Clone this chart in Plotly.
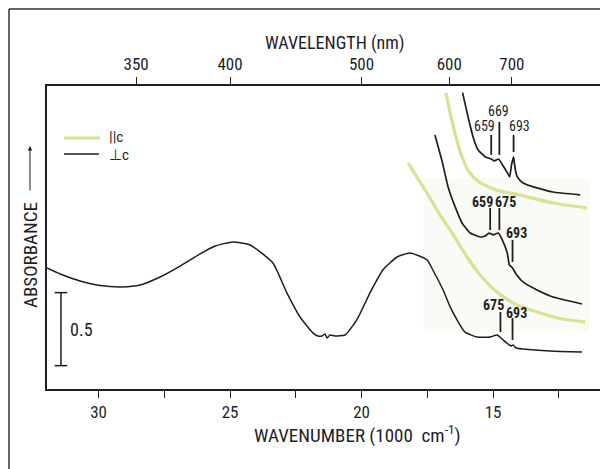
import plotly.graph_objects as go

# ---------------- data (wavenumber in 1000 cm^-1, absorbance) ----------------
main_wn = [31.96, 31.46, 30.70, 29.94, 29.11, 28.42, 27.66, 26.90, 26.14, 25.57, 24.89,
           24.24, 23.37, 22.84, 22.34, 21.85, 21.66, 21.50, 21.39, 21.31, 21.20, 21.01,
           20.63, 20.18, 19.68, 19.19, 18.65, 18.16, 17.51, 17.29, 16.90, 16.63, 16.37,
           16.07, 15.61, 15.11, 14.85, 14.62, 14.43, 14.32, 14.24, 14.12, 13.86, 12.83, 11.62]
main_abs = [0.829, 0.788, 0.740, 0.709, 0.699, 0.712, 0.767, 0.842, 0.925, 0.979, 1.007,
            0.986, 0.863, 0.658, 0.493, 0.384, 0.363, 0.363, 0.377, 0.349, 0.370, 0.363,
            0.370, 0.473, 0.658, 0.815, 0.904, 0.932, 0.884, 0.815, 0.678, 0.562, 0.473,
            0.390, 0.356, 0.356, 0.370, 0.336, 0.308, 0.295, 0.301, 0.281, 0.274, 0.260, 0.253]

perp_top_wn = [16.16, 15.95, 15.76, 15.57, 15.29, 15.07, 14.95, 14.79, 14.64, 14.45,
               14.37, 14.30, 14.22, 14.18, 14.12, 14.05, 13.86, 13.33, 12.72, 11.69]
perp_top_abs = [2.03, 1.863, 1.726, 1.637, 1.589, 1.575, 1.562, 1.575, 1.534, 1.479,
                1.452, 1.534, 1.589, 1.534, 1.473, 1.445, 1.411, 1.377, 1.349, 1.329]

par_top_wn = [16.79, 16.60, 16.41, 16.18, 15.91, 15.53, 14.89, 14.01, 12.72, 11.43]
par_top_abs = [2.027, 1.863, 1.726, 1.589, 1.486, 1.418, 1.363, 1.329, 1.274, 1.240]

perp_mid_wn = [17.21, 16.95, 16.71, 16.44, 16.18, 15.87, 15.49, 15.30, 15.15, 14.99,
               14.80, 14.65, 14.46, 14.38, 14.26, 14.15, 13.86, 13.33, 12.72, 11.62]
perp_mid_abs = [1.740, 1.568, 1.384, 1.247, 1.137, 1.068, 1.041, 1.048, 1.068, 1.055,
                1.068, 1.021, 0.932, 0.849, 0.829, 0.795, 0.733, 0.678, 0.630, 0.582]

par_low_wn = [18.23, 17.78, 17.40, 17.02, 16.71, 16.44, 15.99, 15.49, 14.85, 14.09,
              13.21, 12.34, 11.50]
par_low_abs = [1.548, 1.418, 1.308, 1.192, 1.110, 1.034, 0.904, 0.781, 0.664, 0.575,
               0.521, 0.479, 0.459]

# peak labels: text, label x, label y, marker x, marker y0, marker y1, bold
peak_text = ["669", "659", "693", "659", "675", "693", "675", "693"]
peak_lx = [14.79, 15.33, 13.99, 15.42, 14.51, 14.12, 15.00, 14.12]
peak_ly = [1.904, 1.801, 1.801, 1.281, 1.281, 1.068, 0.575, 0.521]
peak_mx = [14.76, 15.07, 14.22, 15.11, 14.76, 14.26, 14.72, 14.26]
peak_my0 = [1.829, 1.740, 1.740, 1.240, 1.240, 1.021, 0.527, 0.486]
peak_my1 = [1.603, 1.603, 1.623, 1.089, 1.089, 0.870, 0.390, 0.336]
peak_bold = [False, False, False, True, True, True, True, True]

bottom_ticks = [30, 27.5, 25, 22.5, 20, 17.5, 15, 12.5]
bottom_labels = ["30", "", "25", "", "20", "", "15", ""]
top_ticks_nm = [350, 400, 500, 600, 700]

scale_bar_x = 31.43
scale_bar_bottom = 0.16
scale_bar_len = 0.5

X_RANGE = [31.96, 10.63]
Y_RANGE = [0, 2.075]

BLACK = "#1e1e1e"
YELLOW = "#d8e290"
FONT = "Liberation Sans Narrow, Roboto Condensed, Arial Narrow, Liberation Sans, sans-serif"

fig = go.Figure()

# inset paste-up background
fig.add_shape(type="rect", xref="x", yref="y", x0=17.65, x1=11.35, y0=0.39, y1=1.445,
              fillcolor="#fafaf6", line=dict(width=0), layer="below")

fig.add_trace(go.Scatter(x=par_top_wn, y=par_top_abs, mode="lines", name="||c",
                         line=dict(color=YELLOW, width=3.2, shape="spline", smoothing=0.6), showlegend=False))
fig.add_trace(go.Scatter(x=par_low_wn, y=par_low_abs, mode="lines", name="||c",
                         line=dict(color=YELLOW, width=3.2, shape="spline", smoothing=0.6), showlegend=False))
fig.add_trace(go.Scatter(x=perp_top_wn, y=perp_top_abs, mode="lines", name="⊥c",
                         line=dict(color=BLACK, width=1.7, shape="spline", smoothing=0.4), showlegend=False))
fig.add_trace(go.Scatter(x=perp_mid_wn, y=perp_mid_abs, mode="lines", name="⊥c",
                         line=dict(color=BLACK, width=1.7, shape="spline", smoothing=0.4), showlegend=False))
fig.add_trace(go.Scatter(x=main_wn, y=main_abs, mode="lines", name="⊥c",
                         line=dict(color=BLACK, width=1.5, shape="spline", smoothing=0.5), showlegend=False))

# peak marker lines
px, py = [], []
for mx, y0, y1 in zip(peak_mx, peak_my0, peak_my1):
    px += [mx, mx, None]
    py += [y0, y1, None]
fig.add_trace(go.Scatter(x=px, y=py, mode="lines", line=dict(color=BLACK, width=1.8),
                         showlegend=False, hoverinfo="skip"))

for t, lx, ly, b in zip(peak_text, peak_lx, peak_ly, peak_bold):
    fig.add_annotation(x=lx, y=ly, xref="x", yref="y", text=f"<b>{t}</b>" if b else t,
                       showarrow=False, xanchor="center", yanchor="middle",
                       font=dict(family=FONT, size=14, color=BLACK))

# scale bar
fig.add_trace(go.Scatter(x=[scale_bar_x, scale_bar_x],
                         y=[scale_bar_bottom, scale_bar_bottom + scale_bar_len],
                         mode="lines+markers", line=dict(color=BLACK, width=1.5),
                         marker=dict(symbol="line-ew", size=9, line=dict(color=BLACK, width=1.5)),
                         showlegend=False, hoverinfo="skip"))
fig.add_annotation(x=31.16, y=scale_bar_bottom + scale_bar_len / 2, xref="x", yref="y",
                   text=str(scale_bar_len), showarrow=False, xanchor="left", yanchor="middle",
                   font=dict(family=FONT, size=18, color=BLACK))

# dummy trace to activate top axis
fig.add_trace(go.Scatter(x=X_RANGE, y=[None, None], xaxis="x2", showlegend=False, hoverinfo="skip"))

# page has an 8px body margin: figure is placed at (8, 8) in the window
OFF = 8
W, H = 600, 461
L, R, T, B = 39, 0, 78, 80
pw, ph = W - L - R, H - T - B


def pxx(p):
    return (p - OFF - L) / pw


def pxy(p):
    return (H - B - (p - OFF)) / ph


# legend (manual)
fig.add_shape(type="line", xref="paper", yref="paper", x0=pxx(64), x1=pxx(100),
              y0=pxy(138), y1=pxy(138), line=dict(color=YELLOW, width=3.2))
fig.add_shape(type="line", xref="paper", yref="paper", x0=pxx(64), x1=pxx(99),
              y0=pxy(154), y1=pxy(154), line=dict(color=BLACK, width=1.5))
fig.add_annotation(xref="paper", yref="paper", x=pxx(108), y=pxy(137), text="||c",
                   showarrow=False, xanchor="left", yanchor="middle", borderpad=0,
                   font=dict(family=FONT, size=15, color=BLACK))
fig.add_annotation(xref="paper", yref="paper", x=pxx(108), y=pxy(155), text="⊥c",
                   showarrow=False, xanchor="left", yanchor="middle", borderpad=0,
                   font=dict(family=FONT, size=15, color=BLACK))

# axis titles
fig.add_annotation(xref="paper", yref="paper", x=pxx(335), y=pxy(43), text="WAVELENGTH (nm)",
                   showarrow=False, xanchor="center", yanchor="middle",
                   font=dict(family=FONT, size=18, color=BLACK))
fig.add_annotation(xref="paper", yref="paper", x=pxx(357), y=pxy(434),
                   text="WAVENUMBER (1000  cm<sup>-1</sup>)",
                   showarrow=False, xanchor="center", yanchor="middle",
                   font=dict(family=FONT, size=19, color=BLACK))
fig.add_annotation(xref="paper", yref="paper", x=pxx(30), y=pxy(255), text="ABSORBANCE",
                   textangle=-90, showarrow=False, xanchor="center", yanchor="middle",
                   font=dict(family=FONT, size=19, color=BLACK))
fig.add_annotation(xref="paper", yref="paper", x=pxx(30), y=pxy(146), ax=0, ay=46,
                   text="", showarrow=True, arrowhead=2, arrowsize=0.9, arrowwidth=1,
                   arrowcolor=BLACK)

# outer frame (as close to the corner as the page allows)
fig.add_shape(type="line", xref="paper", yref="paper", x0=pxx(9), x1=pxx(9), y0=pxy(9), y1=pxy(480),
              line=dict(color="#333", width=1.5))
fig.add_shape(type="line", xref="paper", yref="paper", x0=pxx(9), x1=pxx(620), y0=pxy(9), y1=pxy(9),
              line=dict(color="#333", width=1.5))

axis_common = dict(range=X_RANGE, tickmode="array", ticks="outside", ticklen=7, tickwidth=1.3,
                   tickcolor=BLACK, showline=True, linecolor=BLACK, linewidth=1.5,
                   showgrid=False, zeroline=False, tickfont=dict(family=FONT, size=17, color=BLACK))

fig.update_layout(
    width=W, height=H, margin=dict(l=L, r=R, t=T, b=B, autoexpand=False),
    paper_bgcolor="white", plot_bgcolor="white", showlegend=False,
    font=dict(family=FONT, size=15, color=BLACK),
    xaxis=dict(tickvals=bottom_ticks, ticktext=bottom_labels, **axis_common),
    xaxis2=dict(overlaying="x", side="top",
                tickvals=[1e4 / nm for nm in top_ticks_nm], ticktext=[str(nm) for nm in top_ticks_nm],
                **axis_common),
    yaxis=dict(range=Y_RANGE, showticklabels=False, ticks="", showline=True, linecolor=BLACK,
               linewidth=1.5, showgrid=False, zeroline=False),
)

fig.write_html("out.html")
